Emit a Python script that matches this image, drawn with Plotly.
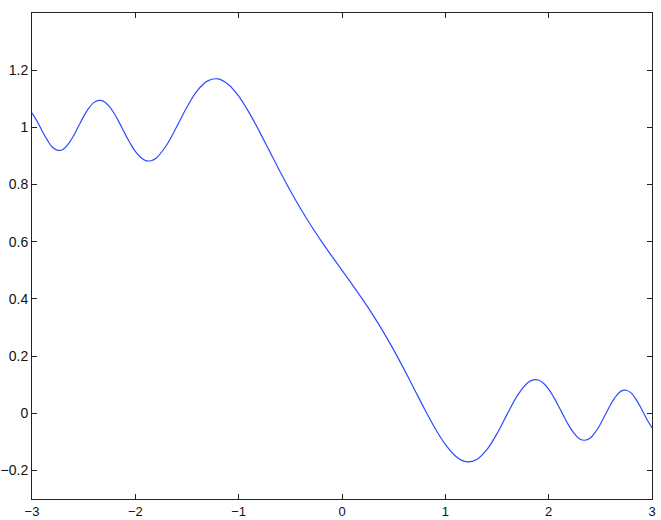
import plotly.graph_objects as go

# curve, right half (x >= 0); left half mirrors around (0, 0.5)
x_right = [0.0, 0.1, 0.2, 0.3, 0.4, 0.5, 0.6, 0.7, 0.8, 0.9, 1.0,
           1.1, 1.2, 1.3, 1.4, 1.5, 1.6, 1.7, 1.8, 1.85, 1.9, 1.95, 2.0,
           2.05, 2.1, 2.15, 2.2, 2.25, 2.3, 2.35, 2.4, 2.45, 2.5,
           2.55, 2.6, 2.65, 2.7, 2.75, 2.8, 2.85, 2.9, 2.95, 3.0]
y_right = [0.5000, 0.4497, 0.3980, 0.3433, 0.2846, 0.2215, 0.1542, 0.0841, 0.0140, -0.0523, -0.1091,
           -0.1502, -0.1694, -0.1625, -0.1283, -0.0714, -0.0022, 0.0635, 0.1078, 0.1168, 0.1162, 0.1046, 0.0842,
           0.0554, 0.0220, -0.0131, -0.0460, -0.0724, -0.0899, -0.0945, -0.0874, -0.0670, -0.0383,
           -0.0037, 0.0306, 0.0587, 0.0773, 0.0804, 0.0705, 0.0457, 0.0137, -0.0210, -0.0511]

x_left = [-3.0, -2.95, -2.9, -2.85, -2.8, -2.75, -2.7, -2.65, -2.6, -2.55,
          -2.5, -2.45, -2.4, -2.35, -2.3, -2.25, -2.2, -2.15, -2.1, -2.05,
          -2.0, -1.95, -1.9, -1.85, -1.8, -1.7, -1.6, -1.5, -1.4, -1.3,
          -1.2, -1.1, -1.0, -0.9, -0.8, -0.7, -0.6, -0.5, -0.4, -0.3, -0.2, -0.1]
y_left = [1.0511, 1.0210, 0.9863, 0.9543, 0.9295, 0.9196, 0.9227, 0.9413, 0.9694, 1.0037,
          1.0383, 1.0670, 1.0874, 1.0945, 1.0899, 1.0724, 1.0460, 1.0131, 0.9780, 0.9446,
          0.9158, 0.8954, 0.8838, 0.8832, 0.8922, 0.9365, 1.0022, 1.0714, 1.1283, 1.1625,
          1.1694, 1.1502, 1.1091, 1.0523, 0.9860, 0.9159, 0.8458, 0.7785, 0.7154, 0.6567, 0.6020, 0.5503]

x_vals = x_left + x_right
y_vals = y_left + y_right

x_ticks = [-3, -2, -1, 0, 1, 2, 3]
x_labels = ["\u22123", "\u22122", "\u22121", "0", "1", "2", "3"]
y_ticks = [-0.2, 0, 0.2, 0.4, 0.6, 0.8, 1.0, 1.2]
y_labels = ["\u22120.2", "0", "0.2", "0.4", "0.6", "0.8", "1", "1.2"]

fig = go.Figure()
fig.add_trace(go.Scatter(
    x=x_vals,
    y=y_vals,
    mode="lines",
    line=dict(color="rgb(45,75,255)", width=1.2, shape="spline", smoothing=1.0),
    showlegend=False,
))

axis_common = dict(
    showline=True,
    linecolor="#222222",
    linewidth=1,
    mirror="allticks",
    ticks="inside",
    ticklen=5,
    tickcolor="#222222",
    showgrid=False,
    zeroline=False,
    automargin=False,
)
label_font = "Liberation Sans, Arial, sans-serif"

fig.update_xaxes(range=[-3, 3], tickvals=x_ticks, ticktext=x_labels,
                 tickfont=dict(family=label_font, size=13, color="#111111"), **axis_common)
fig.update_yaxes(range=[-0.3, 1.4], tickvals=y_ticks, ticktext=y_labels,
                 tickfont=dict(family=label_font, size=14, color="#111111"), **axis_common)

fig.update_layout(
    width=661,
    height=520,
    # bottom a few px higher than the original so the x labels are not clipped
    margin=dict(l=32, r=9, t=13, b=21),
    plot_bgcolor="white",
    paper_bgcolor="white",
)

# the page's default body margin would push the figure out of the window
fig.write_html("out.html", config={"displayModeBar": False},
               post_script="document.body.style.margin='0px';")
